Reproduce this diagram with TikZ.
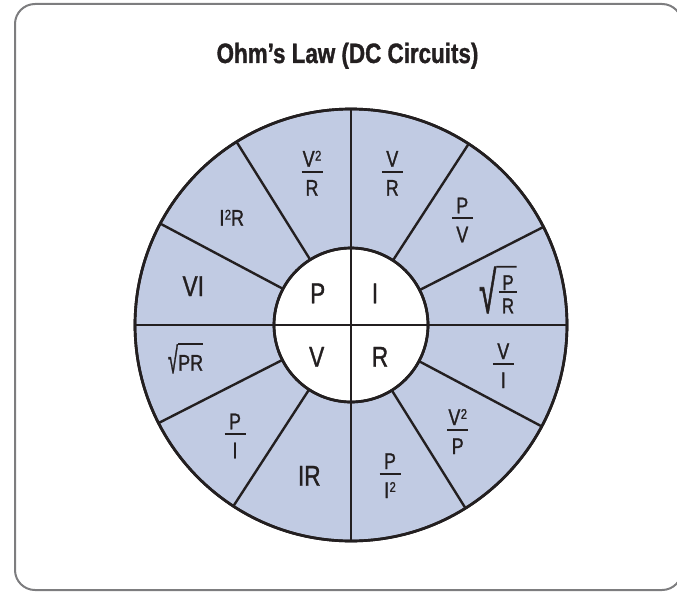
\documentclass[tikz,border=0pt]{standalone}
\usepackage{fontspec}
\setmainfont{Liberation Sans}[FakeStretch=0.8]
\newfontfamily\labelfont{Liberation Sans}[FakeStretch=0.79,FakeBold=1.2]
\newfontfamily\titlefont{Liberation Sans Bold}[FakeStretch=0.8,FakeBold=1.2]
\usepackage{graphicx}
\definecolor{fillblue}{HTML}{C1CBE3}
\definecolor{ink}{HTML}{231F20}
\definecolor{framegray}{HTML}{7D7D7F}
\newcommand\sq{\kern0.02em\raisebox{0.27em}{\scalebox{0.62}{2}}}
\newcommand\fracat[5]{%
  \node[mid] (#1n) at (#2,#3-5) {#4};
  \draw[fbar] (#2-10.5,#3) -- (#2+10.5,#3);
  \node[mid] (#1d) at (#2,#3+24) {#5};
}
\begin{document}
\begin{tikzpicture}[x=0.75pt,y=-0.75pt,
  big/.style={inner sep=0,anchor=base,font=\labelfont\fontsize{21.5}{24}\selectfont,text=ink},
  mid/.style={inner sep=0,anchor=base,font=\labelfont\fontsize{17}{20}\selectfont,text=ink},
  small/.style={inner sep=0,anchor=base,font=\labelfont\fontsize{16}{19}\selectfont,text=ink},
  titlestyle/.style={inner sep=0,anchor=base,font=\titlefont\fontsize{21}{24}\selectfont,text=ink},
  fbar/.style={line width=1.3pt,draw=ink},
  div/.style={line width=1.8pt,draw=ink},
  ring/.style={circle,inner sep=0,outer sep=0,draw=ink,line width=2pt},
  radglyph/.style={inner sep=0,outer sep=0,anchor=south west,text=ink},
]
\useasboundingbox (0,0) rectangle (677,592);
\draw[framegray,line width=1.5pt,rounded corners=15pt] (15,4) rectangle (682,590);
\node[titlestyle] (title) at (347.5,63) {Ohm’s Law (DC Circuits)};

\node[ring,fill=fillblue,minimum size=324pt] (outer) at (351,325) {};
\node[ring,fill=white,minimum size=115.5pt] (inner) at (351,325) {};
\foreach \a in {27.3,57.8,122.2,152.7,207.3,237.8,302.2,332.7}
  \draw[div] (inner.\a) -- (outer.\a);
\draw[div] (outer.west) -- (outer.east);
\draw[div] (outer.north) -- (outer.south);
\draw[ink,line width=2pt] (outer.center) circle (216);
\draw[ink,line width=2pt] (inner.center) circle (77);

% inner quadrants
\node[big] (lp) at (317.7,303.3) {P};
\node[big] (li) at (375,303.3) {I};
\node[big] (lv) at (316.7,366.7) {V};
\node[big] (lr) at (380,366.7) {R};

% outer ring
\node[big] (lvi) at (193.3,296) {VI};
\node[big] (lir) at (309.3,485.7) {IR};
\node[mid] (li2r) at (231.7,225.7) {I\sq R};

\fracat{fa}{312}{171.7}{V\sq}{R}
\fracat{fb}{392.3}{171.7}{V}{R}
\fracat{fc}{462.3}{218.3}{P}{V}
\fracat{fd}{503.3}{364}{V}{I}
\fracat{fe}{457.7}{430}{V\sq}{P}
\fracat{ff}{390}{474}{P}{I\sq}
\fracat{fg}{235}{434.3}{P}{I}

% sqrt(PR)
\node[mid,anchor=base west] (pr) at (178,370.7) {PR};
\node[radglyph] (r1) at (168,373.3) {\resizebox*{7.5pt}{21.75pt}{\labelfont\fontsize{22}{24}\selectfont √}};
\draw[fbar] (r1.north east) -- (r1.north east -| pr.east);

% sqrt(P/R)
\node[small] (sn) at (508,290) {P};
\draw[fbar] (499.3,291.7) -- (516.7,291.7);
\node[small] (sd) at (508,313.3) {R};
\node[radglyph] (r2) at (479,313.3) {\resizebox*{13pt}{35pt}{\labelfont\fontsize{36}{38}\selectfont √}};
\draw[fbar] (r2.north east) -- (516.7,266.7);
\end{tikzpicture}
\end{document}
